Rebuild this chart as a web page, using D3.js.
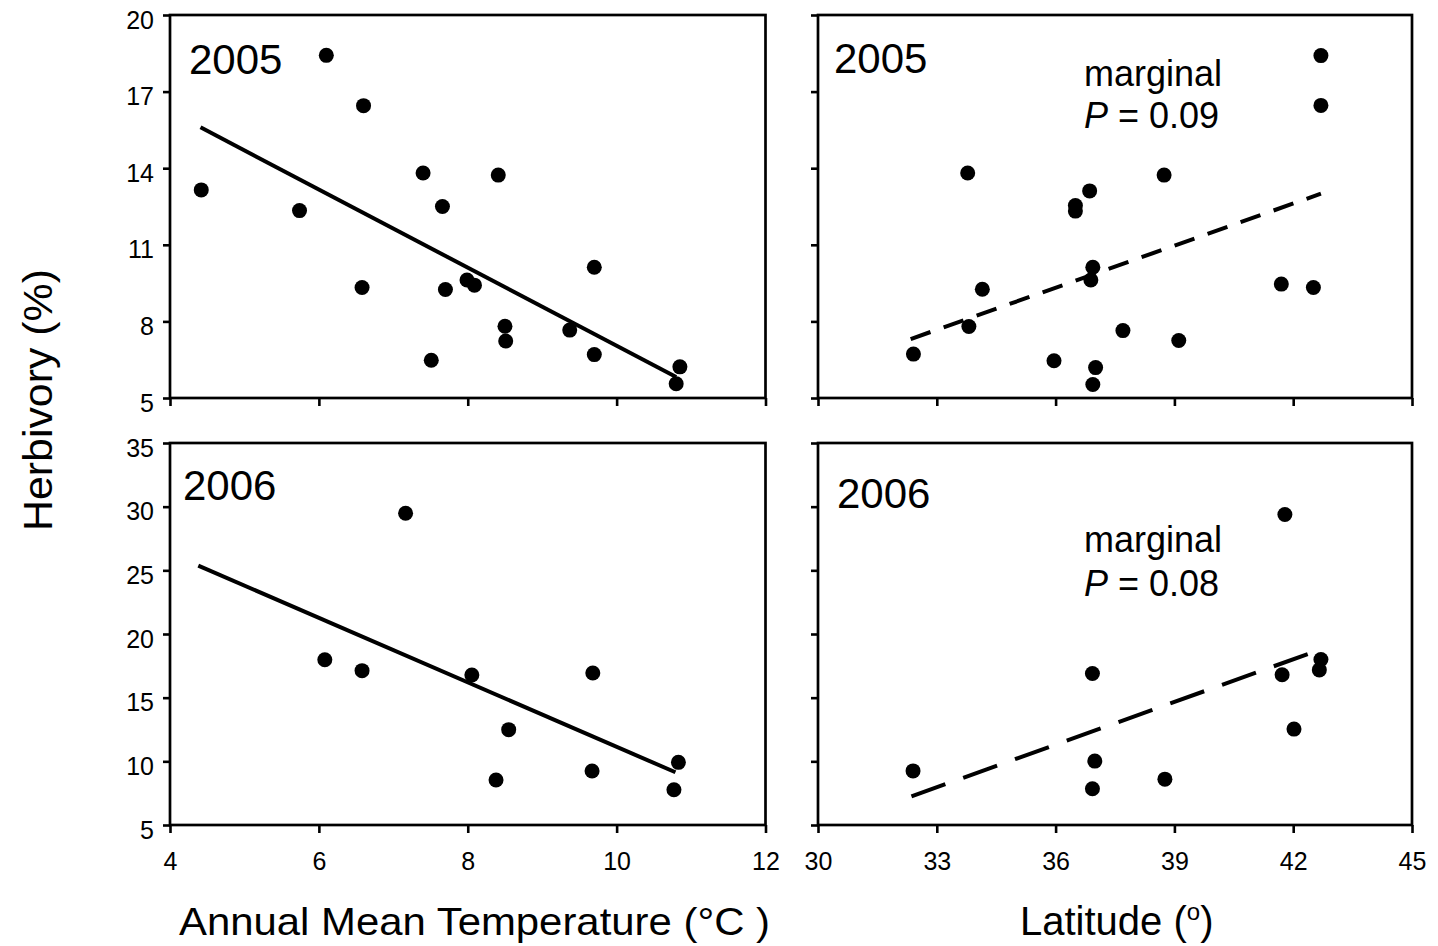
<!DOCTYPE html>
<html>
<head>
<meta charset="utf-8">
<script src="https://cdn.jsdelivr.net/npm/d3@7"></script>
<style>
  body { margin: 0; background: #fff; }
  svg { display: block; font-family: "Liberation Sans", Arial, sans-serif; }
</style>
</head>
<body>
<div id="chart"></div>
<script>
// ---- data ----
const tempTicks = [4, 6, 8, 10, 12];
const latTicks = [30, 33, 36, 39, 42, 45];
const herb05Ticks = [5, 8, 11, 14, 17, 20];
const herb06Ticks = [5, 10, 15, 20, 25, 30, 35];

// 2005 sites
const temp05 = [4.42, 6.10, 6.60, 5.74, 6.58, 7.40, 7.66, 8.41, 7.51, 7.70, 7.99, 8.09, 8.50, 8.51, 9.37, 9.70, 9.70, 10.85, 10.80];
const herb05T = [13.15, 18.42, 16.45, 12.34, 9.33, 13.81, 12.50, 13.73, 6.48, 9.25, 9.62, 9.42, 7.81, 7.23, 7.66, 10.12, 6.70, 6.22, 5.56];
const lat05 = [42.70, 42.70, 33.78, 38.74, 36.86, 36.50, 36.50, 36.94, 36.89, 34.15, 41.70, 42.51, 33.81, 37.70, 39.11, 32.41, 35.96, 37.01, 36.94];
const herb05L = [18.41, 16.46, 13.81, 13.73, 13.11, 12.54, 12.32, 10.12, 9.62, 9.26, 9.46, 9.33, 7.80, 7.64, 7.25, 6.72, 6.46, 6.19, 5.53];

// 2006 sites
const temp06 = [7.165, 6.08, 6.58, 8.055, 9.68, 8.55, 8.38, 9.67, 10.83, 10.77];
const herb06T = [29.48, 17.98, 17.12, 16.78, 16.94, 12.49, 8.53, 9.24, 9.92, 7.77];
const lat06 = [41.79, 36.93, 41.72, 42.70, 42.66, 42.02, 32.40, 36.99, 36.93, 38.76];
const herb06L = [29.38, 16.90, 16.80, 18.00, 17.18, 12.53, 9.25, 10.02, 7.85, 8.60];

// fitted lines (end points)
const fit05T = {x: [4.41, 10.80], y: [15.60, 5.82]};
const fit06T = {x: [4.38, 10.79], y: [25.37, 9.14]};
const fit05L = {x: [32.34, 42.70], y: [7.31, 13.00]};
const fit06L = {x: [32.36, 42.48], y: [7.25, 18.55]};

const width = 1438, height = 946;

const svg = d3.select('#chart')
    .append('svg')
    .attr('width', width)
    .attr('height', height);

function panel(opt) {
    const x = d3.scaleLinear().domain(opt.xDomain).range([opt.left, opt.right]);
    const y = d3.scaleLinear().domain(opt.yDomain).range([opt.bottom, opt.top]);
    const g = svg.append('g');

    // y axis
    const ya = g.append('g')
        .attr('transform', `translate(${opt.left},0)`)
        .call(d3.axisLeft(y).tickValues(opt.yTicks).tickSize(7).tickPadding(9)
            .tickFormat(opt.yLabels ? d3.format('d') : () => ''));
    // x axis
    const xa = g.append('g')
        .attr('transform', `translate(0,${opt.bottom})`)
        .call(d3.axisBottom(x).tickValues(opt.xTicks).tickSize(8).tickPadding(19)
            .tickFormat(opt.xLabels ? d3.format('d') : () => ''));

    [ya, xa].forEach(a => {
        a.select('.domain').remove();
        a.selectAll('line').attr('stroke', '#000').attr('stroke-width', 2.6);
        a.selectAll('text').attr('fill', '#000').style('font-size', '25px');
    });
    ya.selectAll('text').attr('dy', '0.52em');

    // frame
    g.append('rect')
        .attr('x', opt.left).attr('y', opt.top)
        .attr('width', opt.right - opt.left).attr('height', opt.bottom - opt.top)
        .attr('fill', 'none').attr('stroke', '#000').attr('stroke-width', 2.7);

    // fit line
    g.append('line')
        .attr('x1', x(opt.fit.x[0])).attr('y1', y(opt.fit.y[0]))
        .attr('x2', x(opt.fit.x[1])).attr('y2', y(opt.fit.y[1]))
        .attr('stroke', '#000').attr('stroke-width', 4)
        .attr('stroke-dasharray', opt.dash || null);

    // points
    g.append('g')
        .selectAll('circle')
        .data(d3.zip(opt.xs, opt.ys))
        .enter()
        .append('circle')
        .attr('cx', d => x(d[0]))
        .attr('cy', d => y(d[1]))
        .attr('r', 7.5)
        .attr('fill', '#000');

    // year label
    g.append('text')
        .attr('x', opt.left + opt.yearPos[0])
        .attr('y', opt.top + opt.yearPos[1])
        .style('font-size', '42px')
        .text(opt.year);

    if (opt.pval) {
        g.append('text')
            .attr('x', 1084).attr('y', opt.top + opt.notePos[0])
            .style('font-size', '36px')
            .text('marginal');
        const p = g.append('text')
            .attr('x', 1084).attr('y', opt.top + opt.notePos[1])
            .style('font-size', '36px');
        p.append('tspan').style('font-style', 'italic').text('P');
        p.append('tspan').text(' = ' + opt.pval);
    }
}

const L = {left: 170, right: 765.5};
const R = {left: 818, right: 1412};
const T = {top: 15, bottom: 398};
const B = {top: 443, bottom: 825};

panel({...L, ...T, xDomain: [4, 12], yDomain: [5, 20], xTicks: tempTicks, yTicks: herb05Ticks,
    xLabels: false, yLabels: true, xs: temp05, ys: herb05T, fit: fit05T, year: '2005', yearPos: [19, 59]});
panel({...R, ...T, xDomain: [30, 45], yDomain: [5, 20], xTicks: latTicks, yTicks: herb05Ticks,
    xLabels: false, yLabels: false, xs: lat05, ys: herb05L, fit: fit05L, dash: '21,14',
    year: '2005', yearPos: [16, 58], pval: '0.09', notePos: [71, 113]});
panel({...L, ...B, xDomain: [4, 12], yDomain: [5, 35], xTicks: tempTicks, yTicks: herb06Ticks,
    xLabels: true, yLabels: true, xs: temp06, ys: herb06T, fit: fit06T, year: '2006', yearPos: [13, 57]});
panel({...R, ...B, xDomain: [30, 45], yDomain: [5, 35], xTicks: latTicks, yTicks: herb06Ticks,
    xLabels: true, yLabels: false, xs: lat06, ys: herb06L, fit: fit06L, dash: '36,19',
    year: '2006', yearPos: [19, 65], pval: '0.08', notePos: [109, 153]});

// axis titles
svg.append('text')
    .attr('x', 179).attr('y', 935)
    .attr('textLength', 591).attr('lengthAdjust', 'spacingAndGlyphs')
    .style('font-size', '39px')
    .text('Annual Mean Temperature (\u00B0C )');

const lat = svg.append('text')
    .attr('x', 1020).attr('y', 935)
    .style('font-size', '40px');
lat.append('tspan').text('Latitude (');
lat.append('tspan').attr('dy', -15).style('font-size', '24px').text('o');
lat.append('tspan').attr('dy', 15).text(')');

svg.append('text')
    .attr('transform', 'translate(52,400) rotate(-90)')
    .attr('text-anchor', 'middle')
    .attr('textLength', 262).attr('lengthAdjust', 'spacingAndGlyphs')
    .style('font-size', '40px')
    .text('Herbivory (%)');
</script>
</body>
</html>
